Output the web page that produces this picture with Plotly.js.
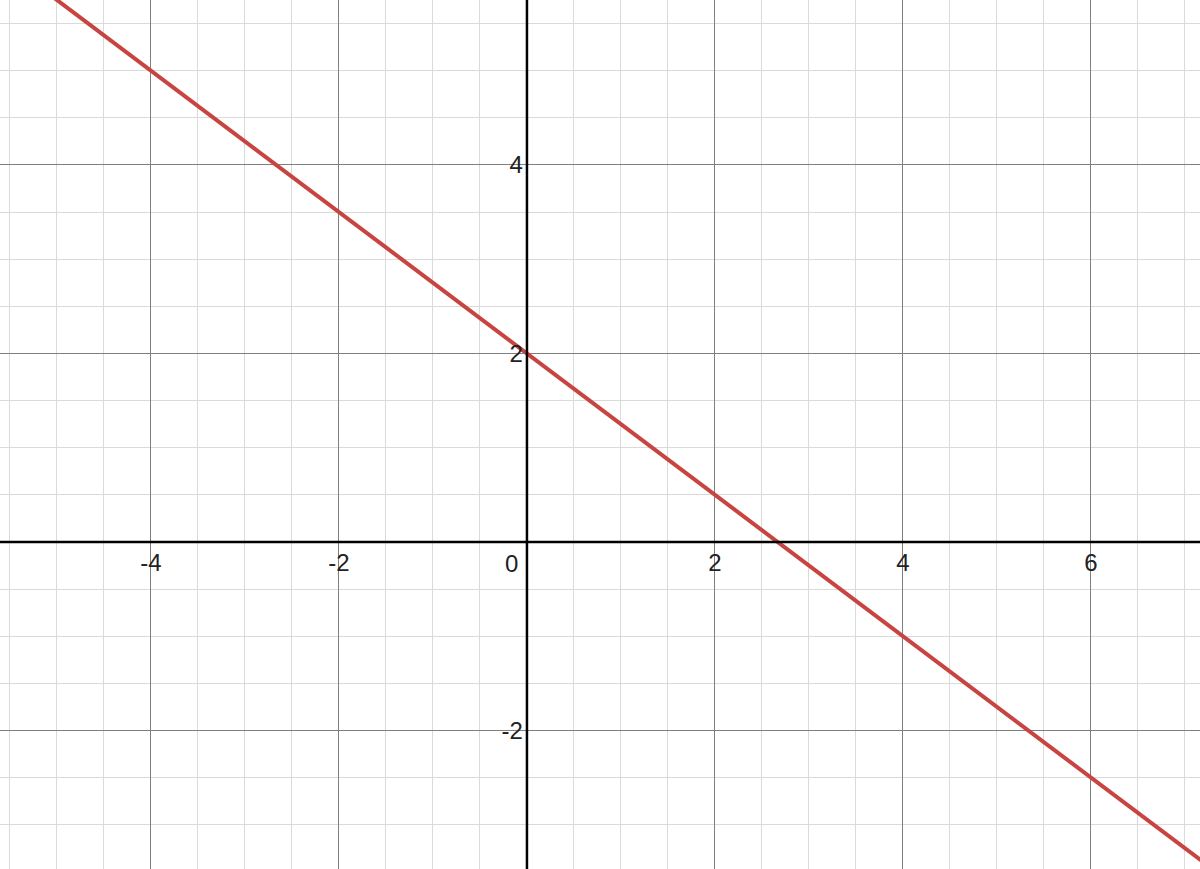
<!DOCTYPE html>
<html>
<head>
<meta charset="utf-8">
<script src="https://cdn.plot.ly/plotly-3.0.1.min.js"></script>
<style>
  html, body { margin: 0; padding: 0; background: #fff; }
  #grafico { width: 1200px; height: 869px; }
</style>
</head>
<body>
<div id="grafico"></div>
<script>
var retaX = [-6, -4, 0, 2, 4, 6, 8];
var retaY = [6.5, 5, 2, 0.5, -1, -2.5, -4];

// rotulos dos eixos (o zero vai numa anotacao propria)
var xTicks = [-4, -2, 2, 4, 6];
var xTickText = ['-4', '-2', '2', '4', '6'];
var yTicks = [-2, 2, 4];
var yTickText = ['-2', '2', '4'];

var xRange = [-5.606, 7.16];
var yRange = [-3.47, 5.75];

// posicao dos eixos no papel (onde fica o zero)
var posX = (0 - yRange[0]) / (yRange[1] - yRange[0]);
var posY = (0 - xRange[0]) / (xRange[1] - xRange[0]);

var reta = {
    type: 'scatter',
    mode: 'lines',
    x: retaX,
    y: retaY,
    line: { color: '#c74440', width: 4 },
    hoverinfo: 'skip'
};

var fonteRotulo = { family: 'Liberation Sans, Arial, sans-serif', size: 24, color: '#222' };

var layout = {
    width: 1200,
    height: 869,
    margin: { t: 0, b: 0, l: 0, r: 0 },
    paper_bgcolor: '#fff',
    plot_bgcolor: '#fff',
    showlegend: false,
    xaxis: {
        range: xRange,
        anchor: 'free',
        position: posX,
        tickvals: xTicks,
        ticktext: xTickText,
        tickfont: fonteRotulo,
        ticks: '',
        ticklabelstandoff: 4,
        showgrid: true,
        gridcolor: '#7f7f7f',
        gridwidth: 1,
        minor: { dtick: 0.5, tick0: 0, showgrid: true, gridcolor: '#dadada', gridwidth: 1 },
        zeroline: false,
        showline: false,
        fixedrange: true
    },
    yaxis: {
        range: yRange,
        anchor: 'free',
        position: posY,
        tickvals: yTicks,
        ticktext: yTickText,
        tickfont: fonteRotulo,
        ticks: '',
        ticklabelstandoff: 4,
        showgrid: true,
        gridcolor: '#7f7f7f',
        gridwidth: 1,
        minor: { dtick: 0.5, tick0: 0, showgrid: true, gridcolor: '#dadada', gridwidth: 1 },
        zeroline: false,
        showline: false,
        fixedrange: true
    },
    shapes: [
        // eixos pretos
        { type: 'line', xref: 'x', yref: 'paper', x0: 0, x1: 0, y0: 0, y1: 1, line: { color: '#000', width: 2.5 } },
        { type: 'line', xref: 'paper', yref: 'y', x0: 0, x1: 1, y0: 0, y1: 0, line: { color: '#000', width: 2.5 } }
    ],
    annotations: [
        {
            x: 0, y: 0, xref: 'x', yref: 'y',
            text: '0', showarrow: false,
            xanchor: 'right', yanchor: 'top',
            xshift: -7, yshift: -6,
            font: fonteRotulo
        }
    ]
};

Plotly.newPlot('grafico', [reta], layout, { staticPlot: true, displayModeBar: false });
</script>
</body>
</html>
